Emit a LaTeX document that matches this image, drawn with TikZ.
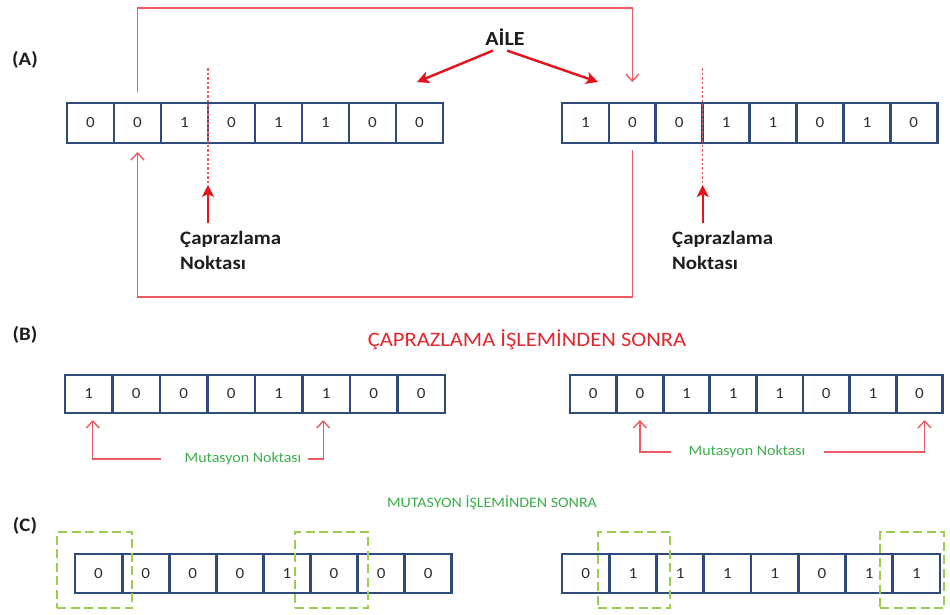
\documentclass[tikz,border=0pt]{standalone}
\usepackage{fontspec}
\setmainfont{Carlito}[FakeStretch=1.1]
\usetikzlibrary{arrows.meta}

\definecolor{cellblue}{HTML}{2F4B7C}
\definecolor{linkred}{HTML}{EE5A64}
\definecolor{markred}{HTML}{E3121C}
\definecolor{titlered}{HTML}{E3262E}
\definecolor{mutgreen}{HTML}{3DAE4E}
\definecolor{boxgreen}{HTML}{9ACD50}
\definecolor{digit}{HTML}{2E2E2E}
\definecolor{ink}{HTML}{1E1E1E}

\tikzset{
  cell/.style={draw=cellblue, line width=2.8pt, outer sep=0pt, inner sep=0pt,
    font=\fontsize{15.5}{15.5}\selectfont, text=digit},
  link/.style={draw=linkred, line width=1.4pt},
  linkarrow/.style={link, -{Straight Barb[length=7pt,width=13pt]}},
  cutline/.style={draw=linkred, line width=1.1pt, dash pattern=on 2.5pt off 2pt},
  markarrow/.style={draw=markred, line width=2.4pt, -{Stealth[length=12pt,width=12pt,inset=3pt]}},
  partlabel/.style={font=\bfseries\fontsize{19}{19}\selectfont, text=ink},
  cutlabel/.style={font=\bfseries\fontsize{19}{25}\selectfont, text=ink, align=left, inner sep=0pt, anchor=north west},
  mutlabel/.style={font=\fontsize{14.5}{14.5}\selectfont, text=mutgreen, inner sep=3pt},
  mutbox/.style={draw=boxgreen, line width=2.4pt, dash pattern=on 9pt off 4.5pt, inner sep=0pt},
}

% one chromosome: name, left x, centre y, cell pitch, cell height, genes
\newcommand\chromosome[6]{%
  \foreach \g [count=\i] in {#6}{%
    \node[cell, minimum width=#4pt, minimum height=#5pt] (#1-\i) at ({#2+(\i-0.5)*#4},#3) {\g};
  }%
}

\begin{document}
\begin{tikzpicture}[x=1pt, y=-1pt]
\useasboundingbox[fill=white] (0,0) rectangle (950,614);

% ---------------- (A) parents ----------------
\node[partlabel] (labA) at (25,60) {(A)};
\chromosome{aL}{67}{123}{47}{40}{0,0,1,0,1,1,0,0}
\chromosome{aR}{562}{123}{46.9}{40}{1,0,0,1,1,0,1,0}

\node[font=\bfseries\fontsize{20}{20}\selectfont, text=ink, inner sep=2pt] (aile) at (505,37) {AİLE};
\coordinate (pL) at (417,82);
\coordinate (pR) at (598,82);
\draw[markarrow] ([xshift=-12pt,yshift=-3pt]aile.south) -- (pL);
\draw[markarrow] ([xshift=2pt,yshift=-3pt]aile.south) -- (pR);

% exchange links between the parents
\draw[linkarrow] ([yshift=11pt]aL-2.north) -- (aL-2.north |- 0,8) -| ([yshift=21pt]aR-2.north);
\draw[linkarrow] ([yshift=-7pt]aR-2.south) -- (aR-2.south |- 0,297) -| ([yshift=-9pt]aL-2.south);

% crossover points
\draw[cutline] (aL-3.east |- 0,68) -- (aL-3.east |- 0,185) coordinate (cutL);
\draw[cutline] (aR-3.east |- 0,68) -- (aR-3.east |- 0,185) coordinate (cutR);
\node[cutlabel] (cpL) at (180,231) {Çaprazlama\\Noktası};
\node[cutlabel] (cpR) at (672,231) {Çaprazlama\\Noktası};
\draw[markarrow] (cutL |- 0,223) -- (cutL);
\draw[markarrow] (cutR |- 0,223) -- (cutR);

% ---------------- (B) after crossover ----------------
\node[partlabel] (labB) at (25,335) {(B)};
\node[font=\fontsize{20.5}{20.5}\selectfont, text=titlered] (titleB) at (527,340) {ÇAPRAZLAMA İŞLEMİNDEN SONRA};
\chromosome{bL}{65}{394}{47.5}{38}{1,0,0,0,1,1,0,0}
\chromosome{bR}{570}{394}{46.6}{38}{0,0,1,1,1,0,1,0}

\node[mutlabel] (mbL) at (243,459) {Mutasyon Noktası};
\draw[linkarrow] ([xshift=-20pt]mbL.west) -| ([xshift=4pt,yshift=-7pt]bL-1.south);
\draw[linkarrow] ([xshift=3pt]mbL.east) -| ([xshift=-3pt,yshift=-7pt]bL-6.south);

\node[mutlabel] (mbR) at (747,452) {Mutasyon Noktası};
\draw[linkarrow] ([xshift=-14pt]mbR.west) -| ([yshift=-7pt]bR-2.south);
\draw[linkarrow] ([xshift=15pt]mbR.east) -| ([xshift=5pt,yshift=-7pt]bR-8.south);

% ---------------- (C) after mutation ----------------
\node[font=\fontsize{14.5}{14.5}\selectfont, text=mutgreen] (titleC) at (492,503) {MUTASYON İŞLEMİNDEN SONRA};
\node[partlabel] (labC) at (25,526) {(C)};
\chromosome{cL}{75}{573.5}{47.1}{39}{0,0,0,0,1,0,0,0}
\chromosome{cR}{562}{573.5}{47.25}{39}{0,1,1,1,1,0,1,1}

\node[mutbox, minimum width=75pt, minimum height=76pt] (g1) at (94.5,570) {};
\node[mutbox, minimum width=73pt, minimum height=76pt] (g2) at (331.5,570) {};
\node[mutbox, minimum width=72pt, minimum height=76pt] (g3) at (634,570) {};
\node[mutbox, minimum width=64pt, minimum height=76pt] (g4) at (912,570) {};
\end{tikzpicture}
\end{document}
